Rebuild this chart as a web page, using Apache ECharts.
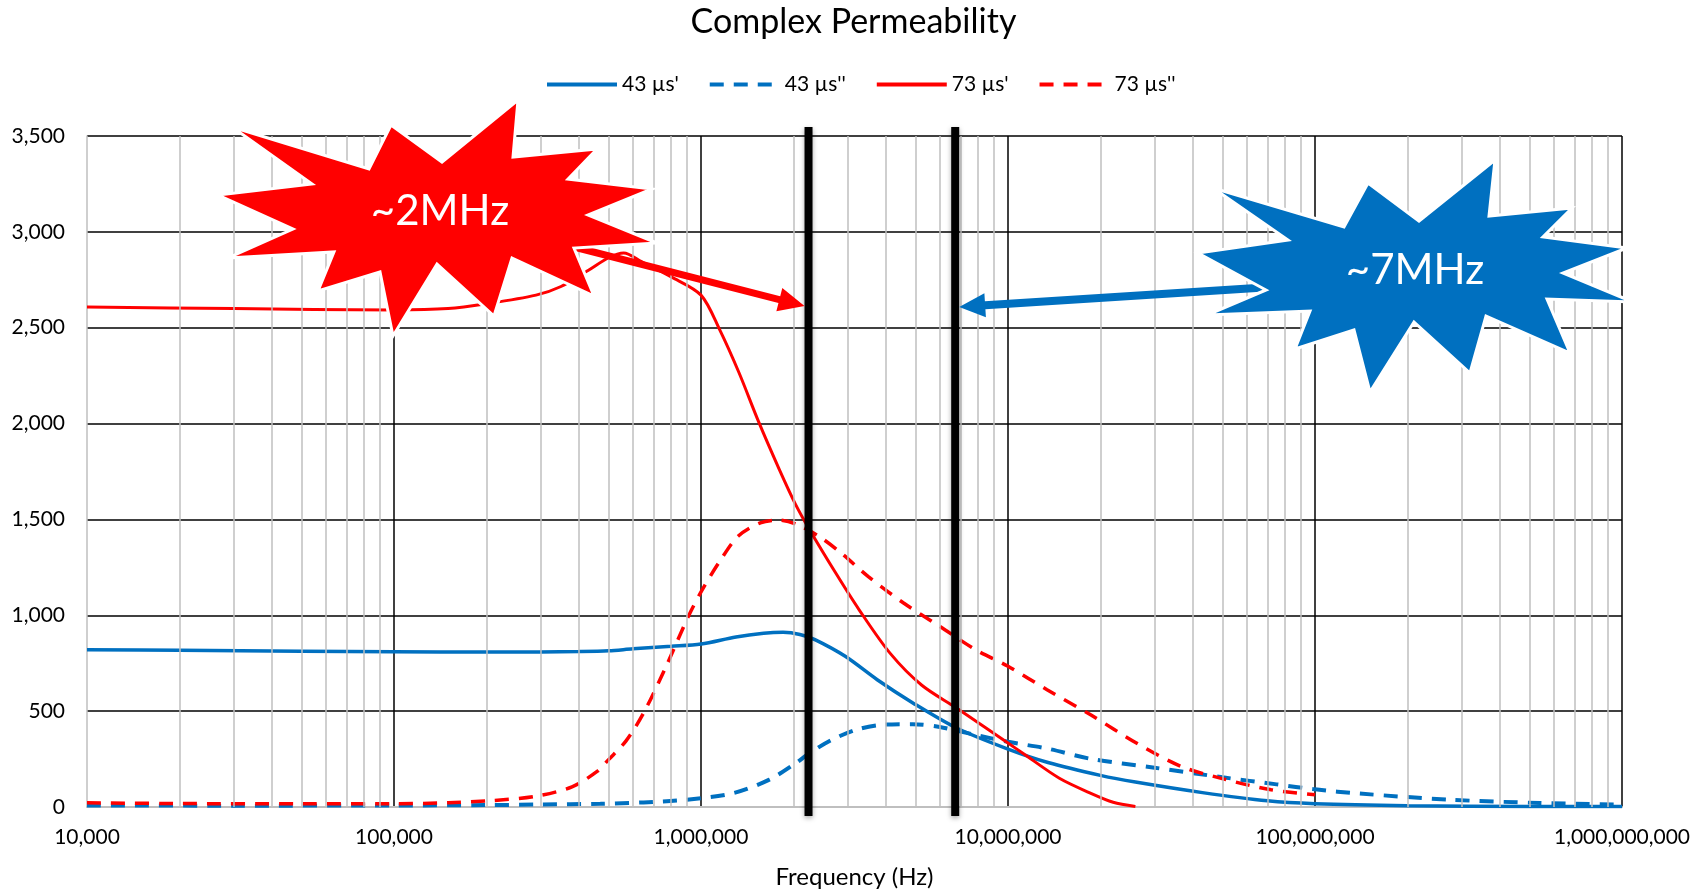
<!DOCTYPE html>
<html>
<head>
<meta charset="utf-8">
<title>Complex Permeability</title>
<script src="https://cdn.jsdelivr.net/npm/echarts@6/dist/echarts.min.js"></script>
<style>
  html, body { margin: 0; padding: 0; background: #fff; }
  #chart { width: 1707px; height: 894px; }
</style>
</head>
<body>
<div id="chart"></div>
<script>
// 43 µs' (real part), frequency in Hz
const freq43Real = [1e4, 2e4, 5e4, 1e5, 2e5, 3e5, 4e5, 5e5, 6e5, 8e5, 1e6, 1.3e6, 1.6e6, 1.85e6, 2.1e6, 2.35e6, 2.95e6, 3.75e6, 4.9e6, 6.8e6, 1e7, 1.35e7, 2e7, 2.6e7, 4.3e7, 7e7, 1e8, 2e8, 5e8, 1e9];
const mu43Real = [820, 817, 813, 810, 808, 809, 811, 815, 825, 838, 850, 887, 906, 911, 900, 873, 786, 664, 543, 412, 302, 232, 165, 130, 75, 32, 17, 7, 3, 2];

// 43 µs'' (imaginary part)
const freq43Imag = [1e4, 3e4, 1e5, 2e5, 3e5, 4.7e5, 6.5e5, 9e5, 1.28e6, 1.67e6, 2.04e6, 2.26e6, 2.67e6, 3.27e6, 4e6, 4.9e6, 6e6, 7.8e6, 1e7, 1.34e7, 1.85e7, 3e7, 5e7, 7.5e7, 1e8, 1.4e8, 2.75e8, 5.4e8, 1e9];
const mu43Imag = [8, 7, 8, 10, 13, 17, 24, 38, 73, 143, 230, 282, 351, 407, 430, 432, 417, 377, 340, 305, 252, 205, 155, 118, 92, 70, 38, 21, 12];

// 73 µs' (real part)
const freq73Real = [1e4, 3e4, 1e5, 1.5e5, 2e5, 2.9e5, 3.5e5, 4.3e5, 5e5, 5.6e5, 6.4e5, 8e5, 1e6, 1.15e6, 1.33e6, 1.54e6, 1.8e6, 2.03e6, 2.26e6, 2.76e6, 3.27e6, 4.14e6, 5.24e6, 6.8e6, 1e7, 1.13e7, 1.47e7, 1.87e7, 2.2e7, 2.6e7];
const mu73Real = [2608, 2600, 2593, 2600, 2625, 2670, 2715, 2800, 2865, 2890, 2845, 2765, 2670, 2490, 2265, 2010, 1760, 1580, 1445, 1215, 1030, 800, 635, 516, 334, 275, 150, 70, 25, 3];

// 73 µs'' (imaginary part)
const freq73Imag = [1e4, 2e4, 5e4, 1e5, 1.5e5, 2.07e5, 2.9e5, 3.8e5, 4.6e5, 5e5, 5.7e5, 6.5e5, 7.7e5, 9.1e5, 1.01e6, 1.16e6, 1.32e6, 1.56e6, 1.79e6, 2.04e6, 2.42e6, 2.86e6, 3.5e6, 4.57e6, 5.98e6, 7.83e6, 1e7, 1.34e7, 1.87e7, 2.62e7, 3.66e7, 5.13e7, 7.2e7, 1e8];
const mu73Imag = [22, 18, 17, 17, 22, 33, 56, 105, 187, 247, 345, 490, 734, 995, 1134, 1290, 1412, 1482, 1496, 1476, 1412, 1325, 1203, 1064, 943, 821, 734, 612, 478, 334, 212, 143, 90, 64];

// the two marked frequencies (~2 MHz and ~7 MHz)
const markerFreqs = [2.24e6, 6.73e6];
const markerLabels = ['~2MHz', '~7MHz'];

// minor log gridlines: 2..9 in every decade
const minorFreqs = [];
for (let d = 1e4; d < 1e9; d *= 10) {
    for (let k = 2; k <= 9; k++) minorFreqs.push(k * d);
}

const BLUE = '#0070C0';
const RED = '#FF0000';
const FONT = 'Lato';
const DASH = [14, 10];

const pair = (xs, ys) => xs.map((x, i) => [x, ys[i]]);

const lineSeries = (name, xs, ys, color, dashed, width) => ({
    name: name,
    type: 'line',
    data: pair(xs, ys),
    smooth: 0.3,
    symbol: 'none',
    showSymbol: false,
    z: 3,
    itemStyle: { color: color },
    lineStyle: { color: color, width: width, type: dashed ? DASH : 'solid' },
    emphasis: { disabled: true }
});

// legend entries: plain line samples, no symbol
const legendItem = (name, color, dashed) => ({
    name: name,
    itemStyle: { opacity: 0 },
    lineStyle: { color: color, width: 4, type: dashed ? DASH : 'solid' }
});

const chart = echarts.init(document.getElementById('chart'));

const option = {
    animation: false,
    backgroundColor: '#fff',
    textStyle: { fontFamily: FONT, color: '#000' },
    title: {
        text: 'Complex Permeability',
        left: 'center',
        top: 0,
        textStyle: { fontFamily: FONT, fontSize: 34, fontWeight: 'normal', color: '#000' }
    },
    legend: {
        data: [
            legendItem("43 µs'", BLUE, false),
            legendItem("43 µs''", BLUE, true),
            legendItem("73 µs'", RED, false),
            legendItem("73 µs''", RED, true)
        ],
        left: 540,
        top: 69,
        itemWidth: 70,
        itemHeight: 14,
        itemGap: 29,
        itemStyle: { opacity: 0 },
        textStyle: { fontFamily: FONT, fontSize: 21, color: '#000' }
    },
    grid: { left: 87, right: 85, top: 136, bottom: 87 },
    xAxis: {
        type: 'log',
        logBase: 10,
        min: 1e4,
        max: 1e9,
        name: 'Frequency (Hz)',
        nameLocation: 'middle',
        nameGap: 58,
        nameTextStyle: { fontFamily: FONT, fontSize: 24, color: '#000' },
        axisLine: { show: true, lineStyle: { color: '#BFBFBF', width: 2 } },
        axisTick: { show: false },
        axisLabel: {
            fontFamily: FONT, fontSize: 21, color: '#000', margin: 20,
            formatter: v => Number(v).toLocaleString('en-US')
        },
        splitLine: { show: true, showMinLine: false, lineStyle: { color: '#000', width: 1.5 } }
    },
    yAxis: {
        type: 'value',
        min: 0,
        max: 3500,
        interval: 500,
        axisLine: { show: true, lineStyle: { color: '#BFBFBF', width: 1.5 } },
        axisTick: { show: false },
        axisLabel: {
            fontFamily: FONT, fontSize: 21, color: '#000', margin: 22,
            formatter: v => Number(v).toLocaleString('en-US')
        },
        splitLine: { show: true, showMinLine: false, lineStyle: { color: '#000', width: 1.5 } }
    },
    series: [
        {
            name: 'minor grid',
            type: 'line',
            data: [],
            z: 1,
            silent: true,
            markLine: {
                silent: true,
                symbol: ['none', 'none'],
                label: { show: false },
                emphasis: { disabled: true },
                lineStyle: { color: '#BFBFBF', width: 1.5, type: 'solid' },
                data: minorFreqs.map(f => ({ xAxis: f }))
            }
        },
        lineSeries("43 µs'", freq43Real, mu43Real, BLUE, false, 3.5),
        lineSeries("43 µs''", freq43Imag, mu43Imag, BLUE, true, 4),
        lineSeries("73 µs'", freq73Real, mu73Real, RED, false, 3),
        lineSeries("73 µs''", freq73Imag, mu73Imag, RED, true, 3.5)
    ]
};
chart.setOption(option);

// ---- annotations: marker lines, starbursts and arrows ----
const yTop = chart.convertToPixel({ yAxisIndex: 0 }, 3500);
const yBottom = chart.convertToPixel({ yAxisIndex: 0 }, 0);
const markerX = markerFreqs.map(f => chart.convertToPixel({ xAxisIndex: 0 }, f));

// starburst outlines (pixel shapes of the callouts)
const redStar = [[232,127],[369,169],[391,125],[442,162],[518,100],[513,157],[597,149],[568,179],[652,189],[588,215],[657,243],[574,248],[594,296],[512,258],[494,316],[437,264],[393,336],[380,272],[318,291],[334,252],[228,258],[293,229],[218,195],[312,184]];
const blueStar = [[1213,188],[1344,227],[1368,183],[1419,221],[1495,160],[1489,216],[1572,208],[1543,237],[1627,248],[1563,273],[1633,302],[1547,299],[1570,353],[1486,316],[1470,373],[1414,322],[1370,392],[1354,330],[1295,349],[1310,311],[1207,315],[1266,290],[1198,253],[1288,240]];

// polygon for a straight arrow from (x1,y1) to the tip (x2,y2)
function arrowShape(x1, y1, x2, y2, shaft, headLen, headHalf) {
    const dx = x2 - x1, dy = y2 - y1;
    const len = Math.hypot(dx, dy);
    const ux = dx / len, uy = dy / len;
    const nx = -uy, ny = ux;
    const bx = x2 - ux * headLen, by = y2 - uy * headLen;
    const s = shaft / 2;
    return [
        [x1 + nx * s, y1 + ny * s],
        [bx + nx * s, by + ny * s],
        [bx + nx * headHalf, by + ny * headHalf],
        [x2, y2],
        [bx - nx * headHalf, by - ny * headHalf],
        [bx - nx * s, by - ny * s],
        [x1 - nx * s, y1 - ny * s]
    ];
}

const graphics = [];

markerX.forEach(x => {
    graphics.push({
        type: 'line',
        z: 50,
        silent: true,
        shape: { x1: x, y1: yTop - 9, x2: x, y2: yBottom + 9 },
        style: {
            stroke: '#000', lineWidth: 8,
            shadowBlur: 5, shadowColor: 'rgba(0,0,0,0.35)', shadowOffsetY: 2
        }
    });
});

graphics.push({
    type: 'polygon', z: 60, silent: true,
    shape: { points: arrowShape(570, 246, markerX[0] - 4, 306, 7, 26, 12) },
    style: { fill: RED }
});
graphics.push({
    type: 'polygon', z: 60, silent: true,
    shape: { points: arrowShape(1272, 287, markerX[1] + 4, 307, 8, 26, 12) },
    style: { fill: BLUE }
});

[[redStar, RED, markerLabels[0], 440, 211], [blueStar, BLUE, markerLabels[1], 1415, 270]].forEach(([pts, color, label, cx, cy]) => {
    graphics.push({
        type: 'polygon', z: 70, silent: true,
        shape: { points: pts },
        style: { fill: color, stroke: '#fff', lineWidth: 3, lineJoin: 'miter' }
    });
    graphics.push({
        type: 'text', z: 71, silent: true,
        x: cx, y: cy,
        style: {
            text: label, fill: '#fff', fontFamily: FONT, fontSize: 42,
            align: 'center', verticalAlign: 'middle'
        }
    });
});

chart.setOption({ graphic: graphics });
</script>
</body>
</html>
